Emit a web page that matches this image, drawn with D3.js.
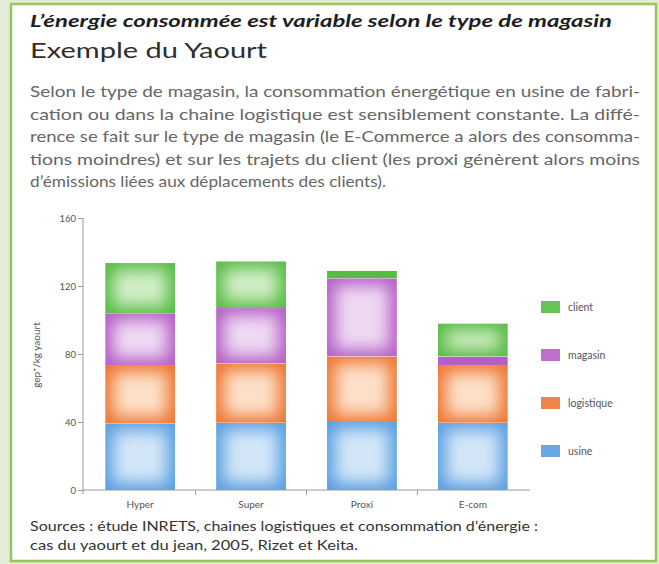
<!DOCTYPE html>
<html>
<head>
<meta charset="utf-8">
<script src="https://cdn.jsdelivr.net/npm/d3@7"></script>
<style>
  body { margin: 0; background: #e3edd6; }
  svg { display: block; }
  text { font-family: Lato, "Open Sans", sans-serif; }
</style>
</head>
<body>
<svg id="chart" width="659" height="564"></svg>
<script>
// data
var categories = ["Hyper", "Super", "Proxi", "E-com"];
var usine      = [39, 39.5, 40, 39.5];
var logistique = [34.5, 35, 38.5, 34];
var magasin    = [30.5, 32.5, 46, 5];
var client     = [29.5, 27.5, 4.5, 19.5];
var seriesNames = ["usine", "logistique", "magasin", "client"];
var yTicks = [0, 40, 80, 120, 160];

var titleText = "L\u2019énergie consommée est variable selon le type de magasin";
var subtitleText = "Exemple du Yaourt";
var paraLines = [
  "Selon le type de magasin, la consommation énergétique en usine de fabri-",
  "cation ou dans la chaine logistique est sensiblement constante. La diffé-",
  "rence se fait sur le type de magasin (le E-Commerce a alors des consomma-",
  "tions moindres) et sur les trajets du client (les proxi génèrent alors moins",
  "d\u2019émissions liées aux déplacements des clients)."
];
var sourceLines = [
  "Sources : étude INRETS, chaines logistiques et consommation d\u2019énergie :",
  "cas du yaourt et du jean, 2005, Rizet et Keita."
];

var edgeCol = { usine: "#5a9fe1", logistique: "#ee7632", magasin: "#b55fc6", client: "#58bc44" };
var midCol  = { usine: "#d3e6f8", logistique: "#fde0c8", magasin: "#eed9f3", client: "#d2eec8" };

var svg = d3.select("#chart");

// frame
svg.append("rect")
    .attr("x", 11).attr("y", 4)
    .attr("width", 645).attr("height", 557)
    .attr("fill", "#fff")
    .attr("stroke", "#98c65c")
    .attr("stroke-width", 2.5);

// header texts
svg.append("text")
    .attr("x", 30).attr("y", 27)
    .attr("font-size", 17).attr("font-weight", "bold").attr("font-style", "italic")
    .attr("fill", "#1e1e1e")
    .attr("textLength", 582).attr("lengthAdjust", "spacingAndGlyphs")
    .text(titleText);

svg.append("text")
    .attr("x", 30).attr("y", 58)
    .attr("font-size", 21)
    .attr("fill", "#2e2e2e")
    .attr("textLength", 237).attr("lengthAdjust", "spacingAndGlyphs")
    .text(subtitleText);

svg.selectAll(".para")
    .data(paraLines)
    .enter().append("text")
    .attr("class", "para")
    .attr("x", 30)
    .attr("y", function(d, i) { return 97 + i * 22.5; })
    .attr("font-size", 15)
    .attr("fill", "#666")
    .attr("textLength", function(d, i) { return i < paraLines.length - 1 ? 610 : 356; })
    .attr("lengthAdjust", "spacingAndGlyphs")
    .text(function(d) { return d; });

svg.selectAll(".src")
    .data(sourceLines)
    .enter().append("text")
    .attr("class", "src")
    .attr("x", 30)
    .attr("y", function(d, i) { return 531 + i * 19; })
    .attr("font-size", 13.5)
    .attr("fill", "#333")
    .attr("textLength", function(d, i) { return i == 0 ? 508 : 328; })
    .attr("lengthAdjust", "spacingAndGlyphs")
    .text(function(d) { return d; });

// chart
var x = d3.scaleBand()
    .domain(categories)
    .range([83, 530])
    .paddingInner(0.37)
    .paddingOuter(0.2);

var y = d3.scaleLinear()
    .domain([0, 160])
    .range([490, 218]);

var table = categories.map(function(c, i) {
    return { cat: c, usine: usine[i], logistique: logistique[i], magasin: magasin[i], client: client[i] };
});
var stacked = d3.stack().keys(seriesNames)(table);

var defs = svg.append("defs");
defs.append("filter")
    .attr("id", "soft")
    .attr("x", "-50%").attr("y", "-50%")
    .attr("width", "200%").attr("height", "200%")
    .append("feGaussianBlur")
    .attr("stdDeviation", 8);

var segId = 0;
stacked.forEach(function(layer) {
    var key = layer.key;
    layer.forEach(function(d) {
        var bx = x(d.data.cat), bw = x.bandwidth();
        var by = y(d[1]), bh = y(d[0]) - y(d[1]);
        var id = "seg" + (segId++);
        defs.append("clipPath").attr("id", id)
            .append("rect").attr("x", bx).attr("y", by).attr("width", bw).attr("height", bh);
        var g = svg.append("g").attr("clip-path", "url(#" + id + ")");
        g.append("rect")
            .attr("x", bx).attr("y", by)
            .attr("width", bw).attr("height", bh)
            .attr("fill", edgeCol[key]);
        if (bh > 16) {
            g.append("rect")
                .attr("x", bx + 8).attr("y", by + 7)
                .attr("width", bw - 16).attr("height", bh - 14)
                .attr("fill", midCol[key])
                .attr("filter", "url(#soft)");
        }
    });
});

// y axis
var yAxis = d3.axisLeft(y).tickValues(yTicks).tickSize(5).tickPadding(2);
var gy = svg.append("g")
    .attr("transform", "translate(83,0)")
    .call(yAxis);
gy.select(".domain").attr("stroke", "#9a9a9a").attr("d", "M0,218V494");
gy.selectAll(".tick line").attr("stroke", "#9a9a9a");
gy.selectAll(".tick text")
    .attr("font-size", 9.5).attr("fill", "#555")
    .attr("font-family", "Lato, sans-serif");

// x axis: boundary ticks between bands
var step = x.step();
var gx = svg.append("g");
gx.append("line")
    .attr("x1", 83).attr("x2", 530)
    .attr("y1", y(0)).attr("y2", y(0))
    .attr("stroke", "#9a9a9a");
gx.selectAll(".xt")
    .data(categories.slice(1))
    .enter().append("line")
    .attr("x1", function(d) { return x(d) - step * x.paddingInner() / 2; })
    .attr("x2", function(d) { return x(d) - step * x.paddingInner() / 2; })
    .attr("y1", y(0)).attr("y2", y(0) + 5)
    .attr("stroke", "#9a9a9a");
gx.selectAll(".xl")
    .data(categories)
    .enter().append("text")
    .attr("x", function(d) { return x(d) + x.bandwidth() / 2; })
    .attr("y", 508)
    .attr("text-anchor", "middle")
    .attr("font-size", 10).attr("fill", "#555")
    .text(function(d) { return d; });

// y axis title
svg.append("text")
    .attr("transform", "translate(40,355) rotate(-90)")
    .attr("text-anchor", "middle")
    .attr("font-size", 10).attr("fill", "#555")
    .text("gep*/kg yaourt");

// legend, top entry first
var legendKeys = seriesNames.slice().reverse();
var lg = svg.selectAll(".lg")
    .data(legendKeys)
    .enter().append("g")
    .attr("transform", function(d, i) { return "translate(541," + (301 + i * 48) + ")"; });
lg.append("rect")
    .attr("width", 19).attr("height", 12)
    .attr("fill", function(d) { return edgeCol[d]; })
    .attr("opacity", 0.9);
lg.append("text")
    .attr("x", 27).attr("y", 10)
    .attr("font-size", 10.5).attr("fill", "#555")
    .text(function(d) { return d; });
</script>
</body>
</html>
